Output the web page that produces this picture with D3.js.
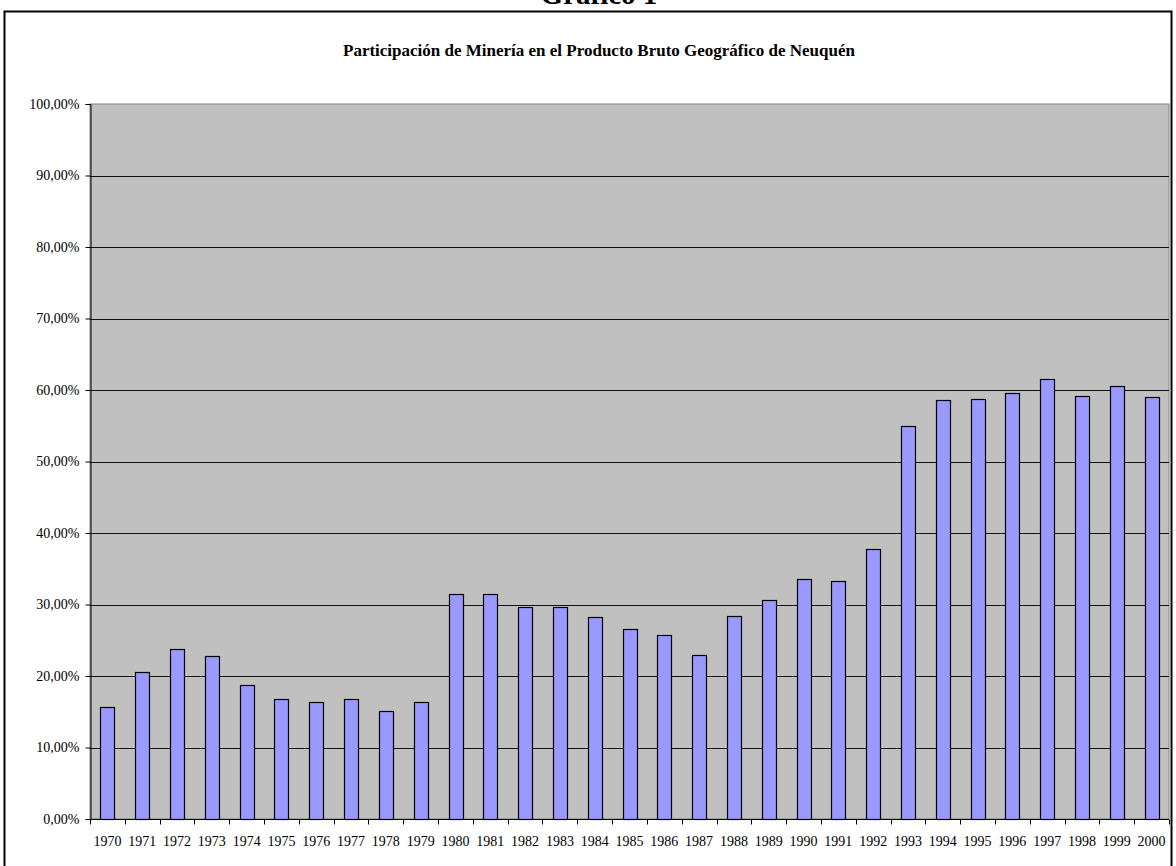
<!DOCTYPE html>
<html>
<head>
<meta charset="utf-8">
<script src="https://cdn.jsdelivr.net/npm/d3@7"></script>
<style>
  body { margin: 0; background: #fff; overflow: hidden; }
  svg { display: block; }
</style>
</head>
<body>
<div id="chart"></div>
<script>
// Years on the x axis
const years = [
  '1970', '1971', '1972', '1973', '1974', '1975', '1976', '1977', '1978', '1979',
  '1980', '1981', '1982', '1983', '1984', '1985', '1986', '1987', '1988', '1989',
  '1990', '1991', '1992', '1993', '1994', '1995', '1996', '1997', '1998', '1999',
  '2000',
];

// Share of mining in the provincial product (%)
const shares = [
  15.6, 20.6, 23.8, 22.8, 18.8, 16.8, 16.4, 16.8, 15.1, 16.3,
  31.4, 31.4, 29.7, 29.6, 28.2, 26.6, 25.8, 23.0, 28.4, 30.6,
  33.6, 33.3, 37.7, 54.9, 58.6, 58.7, 59.6, 61.5, 59.1, 60.6,
  59.0,
];

const yTicks = [0, 10, 20, 30, 40, 50, 60, 70, 80, 90, 100];

const FONT = "'Liberation Serif', 'Times New Roman', serif";
const width = 1176;
const height = 866;
const plot = { left: 90, right: 1169, top: 104, bottom: 819 };

const svg = d3
  .select('#chart')
  .append('svg')
  .attr('width', width)
  .attr('height', height)
  .attr('font-family', FONT);

// Page heading, cut off at the top edge like the source
svg
  .append('text')
  .attr('x', 599)
  .attr('y', 4)
  .attr('text-anchor', 'middle')
  .style('font-size', '29px')
  .style('font-weight', 700)
  .text('Gráfico 1');

// Chart frame
svg
  .append('rect')
  .attr('x', 4.5)
  .attr('y', 11.5)
  .attr('width', 1167)
  .attr('height', 870)
  .attr('fill', '#fff')
  .attr('stroke', '#000')
  .attr('stroke-width', 2);

svg
  .append('text')
  .attr('x', 599)
  .attr('y', 56)
  .attr('text-anchor', 'middle')
  .style('font-size', '17px')
  .style('font-weight', 700)
  .text('Participación de Minería en el Producto Bruto Geográfico de Neuquén');

// Scales
const xscale = d3
  .scaleBand()
  .domain(years)
  .range([plot.left, plot.right])
  .paddingInner(0.6)
  .paddingOuter(0.3);

const xOuter = d3.scaleBand().domain(years).range([plot.left, plot.right]);

const yscale = d3
  .scaleLinear()
  .domain([0, 100])
  .range([plot.bottom, plot.top]);

// Plot area background
svg
  .append('rect')
  .attr('x', plot.left)
  .attr('y', plot.top)
  .attr('width', plot.right - plot.left)
  .attr('height', plot.bottom - plot.top)
  .attr('fill', '#c0c0c0')
  .attr('stroke', '#808080')
  .attr('stroke-width', 1);

// Gridlines
svg
  .append('g')
  .selectAll('line')
  .data(yTicks.filter((t) => t > 0 && t < 100))
  .enter()
  .append('line')
  .attr('x1', plot.left)
  .attr('x2', plot.right)
  .attr('y1', (d) => Math.round(yscale(d)) + 0.5)
  .attr('y2', (d) => Math.round(yscale(d)) + 0.5)
  .attr('stroke', '#111')
  .attr('stroke-width', 1);

// Bars
svg
  .append('g')
  .selectAll('rect')
  .data(shares)
  .enter()
  .append('rect')
  .attr('x', (d, i) => Math.round(xscale(years[i])) + 0.5)
  .attr('y', (d) => Math.round(yscale(d)) + 0.5)
  .attr('width', Math.round(xscale.bandwidth()))
  .attr('height', (d) => Math.round(yscale(0)) - Math.round(yscale(d)))
  .attr('fill', '#9999ff')
  .attr('stroke', '#000')
  .attr('stroke-width', 1.2);

// Y axis
const yAxis = d3
  .axisLeft(yscale)
  .tickValues(yTicks)
  .tickSize(5)
  .tickPadding(6)
  .tickFormat((d) => d3.format('.2f')(d).replace('.', ',') + '%');

const yG = svg
  .append('g')
  .attr('transform', `translate(${plot.left + 0.5}, 0)`)
  .call(yAxis)
  .attr('font-family', FONT)
  .attr('font-size', 14);
yG.select('.domain').attr('stroke', '#000');
yG.selectAll('text').attr('fill', '#000');

// X axis, ticks on category boundaries
const xAxis = d3.axisBottom(xOuter).tickSize(0).tickPadding(17);

const xG = svg
  .append('g')
  .attr('transform', `translate(0, ${plot.bottom + 0.5})`)
  .call(xAxis)
  .attr('font-family', FONT)
  .attr('font-size', 14);
xG.select('.domain').attr('d', `M${plot.left},0H${plot.right}`).attr('stroke', '#000');
xG.selectAll('text').attr('fill', '#000');

xG.selectAll('line.bound')
  .data(years.concat(['end']))
  .enter()
  .append('line')
  .attr('class', 'bound')
  .attr('x1', (d, i) => Math.round(plot.left + i * xOuter.step()) + 0.5)
  .attr('x2', (d, i) => Math.round(plot.left + i * xOuter.step()) + 0.5)
  .attr('y1', 0)
  .attr('y2', 5)
  .attr('stroke', '#000');
</script>
</body>
</html>
